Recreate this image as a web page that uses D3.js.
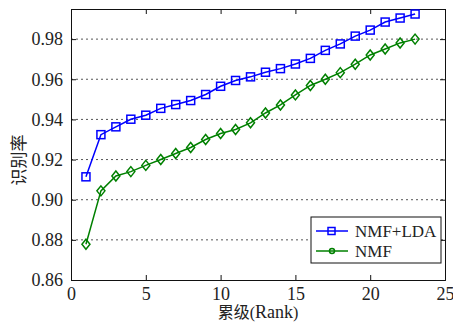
<!DOCTYPE html>
<html>
<head>
<meta charset="utf-8">
<script src="https://cdn.jsdelivr.net/npm/d3@7"></script>
<style>
  body { margin: 0; background: #fff; }
  text { font-family: "Liberation Serif", "Noto Sans CJK SC", serif; fill: #222; }
</style>
</head>
<body>
<svg width="453" height="324"></svg>
<script>
var ranks = [1,2,3,4,5,6,7,8,9,10,11,12,13,14,15,16,17,18,19,20,21,22,23];
var nmfLda = [0.9114,0.9324,0.9363,0.9401,0.9421,0.9455,0.9474,0.9494,0.9524,0.9565,0.9594,0.9612,0.9635,0.9653,0.9676,0.9704,0.9744,0.9776,0.9815,0.9845,0.9885,0.9905,0.9925];
var nmf = [0.8778,0.9044,0.9118,0.9140,0.9171,0.9200,0.9230,0.9260,0.9300,0.9330,0.9350,0.9383,0.9432,0.9472,0.9522,0.9569,0.9600,0.9633,0.9675,0.9721,0.9751,0.9781,0.9800];
var xTicks = [0,5,10,15,20,25];
var yTicks = [0.86,0.88,0.90,0.92,0.94,0.96,0.98];
var seriesNames = ["NMF+LDA","NMF"];

var margin = { top: 9, right: 8, bottom: 44, left: 71 };
var width = 453 - margin.left - margin.right;
var height = 324 - margin.top - margin.bottom;

var svg = d3.select("svg");
var g = svg.append("g")
    .attr("transform", "translate(" + margin.left + "," + margin.top + ")");

var x = d3.scaleLinear().domain([0, 25]).range([0, width]);
var y = d3.scaleLinear().domain([0.86, 0.995]).range([height, 0]);

// dotted grid
g.append("g").selectAll("line")
    .data(yTicks.slice(1))
    .enter().append("line")
    .attr("x1", 0).attr("x2", width)
    .attr("y1", function(d) { return y(d); })
    .attr("y2", function(d) { return y(d); })
    .attr("stroke", "#555")
    .attr("stroke-width", 1)
    .attr("stroke-dasharray", "2,3");

// axes, ticks inside
var axB = g.append("g")
    .attr("transform", "translate(0," + height + ")")
    .call(d3.axisBottom(x).tickValues(xTicks).tickSize(-5).tickPadding(7).tickFormat(d3.format("d")));
var axL = g.append("g")
    .call(d3.axisLeft(y).tickValues(yTicks).tickSize(-5).tickPadding(8).tickFormat(d3.format(".2f")));
var axT = g.append("g")
    .call(d3.axisTop(x).tickValues(xTicks).tickSize(-5).tickFormat(""));
var axR = g.append("g")
    .attr("transform", "translate(" + width + ",0)")
    .call(d3.axisRight(y).tickValues(yTicks).tickSize(-5).tickFormat(""));

[axB, axL, axT, axR].forEach(function(a) {
  a.selectAll("path, line").attr("stroke", "#111").attr("stroke-width", 1);
  a.selectAll("text").style("font-size", "18px").attr("fill", "#222")
    .style("font-family", "'Liberation Serif', serif");
});
axB.selectAll("text").attr("dy", "0.71em");

var line = d3.line()
    .x(function(d, i) { return x(ranks[i]); })
    .y(function(d) { return y(d); });

// NMF+LDA
g.append("path")
    .datum(nmfLda)
    .attr("fill", "none")
    .attr("stroke", "#0000ff")
    .attr("stroke-width", 1.5)
    .attr("d", line);
g.append("g").selectAll("rect")
    .data(nmfLda)
    .enter().append("rect")
    .attr("x", function(d, i) { return x(ranks[i]) - 4; })
    .attr("y", function(d) { return y(d) - 4; })
    .attr("width", 8).attr("height", 8)
    .attr("fill", "none")
    .attr("stroke", "#0000ff")
    .attr("stroke-width", 1.5);

// NMF
g.append("path")
    .datum(nmf)
    .attr("fill", "none")
    .attr("stroke", "#008000")
    .attr("stroke-width", 1.5)
    .attr("d", line);
g.append("g").selectAll("path")
    .data(nmf)
    .enter().append("path")
    .attr("transform", function(d, i) { return "translate(" + x(ranks[i]) + "," + y(d) + ")"; })
    .attr("d", "M0,-5L4,0L0,5L-4,0Z")
    .attr("fill", "none")
    .attr("stroke", "#008000")
    .attr("stroke-width", 1.5);

// legend
var leg = g.append("g").attr("transform", "translate(" + (width - 134) + "," + (height - 63) + ")");
leg.append("rect")
    .attr("width", 130).attr("height", 46)
    .attr("fill", "#fff")
    .attr("stroke", "#111").attr("stroke-width", 1);
var colors = ["#0000ff", "#008000"];
seriesNames.forEach(function(name, i) {
  var ly = 14 + i * 20;
  leg.append("line")
    .attr("x1", 5).attr("x2", 37).attr("y1", ly).attr("y2", ly)
    .attr("stroke", colors[i]).attr("stroke-width", 1.5);
  if (i === 0) {
    leg.append("rect").attr("x", 17).attr("y", ly - 3.5).attr("width", 7).attr("height", 7)
      .attr("fill", "none").attr("stroke", colors[i]).attr("stroke-width", 1.5);
  } else {
    leg.append("circle").attr("cx", 21).attr("cy", ly).attr("r", 2.5)
      .attr("fill", "none").attr("stroke", colors[i]).attr("stroke-width", 1.5);
  }
  leg.append("text")
    .attr("x", 44).attr("y", ly + 6)
    .style("font-size", "17px")
    .text(name);
});

// axis titles
var xt = svg.append("text")
    .attr("x", margin.left + width / 2)
    .attr("y", 318)
    .attr("text-anchor", "middle")
    .style("font-size", "16px");
xt.append("tspan").text("累级(");
xt.append("tspan").style("font-size", "18px").text("Rank");
xt.append("tspan").text(")");

svg.append("text")
    .attr("transform", "translate(25,160) rotate(-90)")
    .attr("text-anchor", "middle")
    .style("font-size", "17px")
    .text("识别率");
</script>
</body>
</html>
